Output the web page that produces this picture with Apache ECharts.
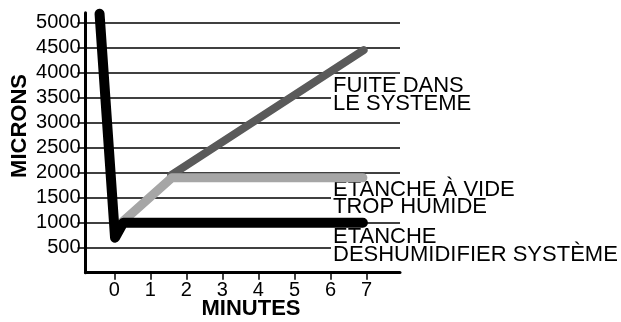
<!DOCTYPE html>
<html>
<head>
<meta charset="utf-8">
<script src="https://cdn.jsdelivr.net/npm/echarts@6/dist/echarts.min.js"></script>
<style>
    html, body { margin: 0; padding: 0; background: #fff; }
    #chart { width: 621px; height: 322px; }
</style>
</head>
<body>
<div id="chart"></div>
<script>
    // values
    const minuteTicks = [0, 1, 2, 3, 4, 5, 6, 7];
    const micronTicks = [500, 1000, 1500, 2000, 2500, 3000, 3500, 4000, 4500, 5000];

    // black: pump-down then stays sealed
    const sealedX = [-0.41, 0.02, 0.25, 6.9];
    const sealedY = [5180, 700, 1000, 1000];
    // light gray: rises and levels off (moisture)
    const wetX = [0.2, 1.6, 6.9];
    const wetY = [1000, 1900, 1900];
    // dark gray: keeps rising (leak)
    const leakX = [1.58, 6.92];
    const leakY = [1950, 4450];

    const notes = [
        'FUITE DANS\nLE SYSTEME',
        'ÉTANCHE À VIDE\nTROP HUMIDE',
        'ÉTANCHE\nDESHUMIDIFIER SYSTÈME'
    ];

    const font = '"Liberation Sans", Arial, sans-serif';
    const pairs = (xs, ys) => xs.map((x, i) => [x, ys[i]]);

    const myChart = echarts.init(document.getElementById('chart'));
    const noteTop = [75.5, 179, 226.4];

    const options = {
        animation: false,
        backgroundColor: '#fff',
        grid: { left: 85.5, right: 221, top: 12.7, bottom: 49.3 },
        xAxis: {
            type: 'value',
            min: -0.8,
            max: 7.93,
            axisLine: { onZero: false, lineStyle: { color: '#000', width: 3 } },
            axisTick: { customValues: minuteTicks, length: 7, lineStyle: { color: '#000', width: 1.5 } },
            axisLabel: { customValues: minuteTicks, margin: 8, color: '#000', fontSize: 20, fontFamily: font },
            splitLine: { show: false }
        },
        yAxis: {
            type: 'value',
            min: 0,
            max: 5200,
            interval: 500,
            axisLine: { show: true, onZero: false, lineStyle: { color: '#000', width: 3 } },
            axisTick: { customValues: micronTicks, length: 8, lineStyle: { color: '#000', width: 1.5 } },
            axisLabel: {
                customValues: micronTicks, margin: 5, color: '#000', fontSize: 20, fontFamily: font,
                formatter: v => String(v)
            },
            splitLine: { show: true, lineStyle: { color: '#000', width: 1.5 } }
        },
        graphic: [
            {
                type: 'text', x: 20, y: 126, rotation: Math.PI / 2, z: 1,
                style: { text: 'MICRONS', font: 'bold 22px ' + font, fill: '#000', align: 'center', verticalAlign: 'middle' }
            },
            {
                type: 'text', x: 251, y: 309, z: 1,
                style: { text: 'MINUTES', font: 'bold 22px ' + font, fill: '#000', align: 'center', verticalAlign: 'middle' }
            }
        ].concat(notes.map((t, i) => ({
            type: 'text', x: 331, y: noteTop[i], z: 1,
            style: {
                text: t, font: '22px ' + font, fill: '#000', lineHeight: 17.5,
                backgroundColor: '#fff', padding: [2, 4, 0, 2]
            }
        }))),
        series: [
            {
                name: 'leak', type: 'line', data: pairs(leakX, leakY),
                symbol: 'none', silent: true,
                lineStyle: { color: '#5a5a5a', width: 8, cap: 'round', join: 'round' }
            },
            {
                name: 'wet', type: 'line', data: pairs(wetX, wetY),
                symbol: 'none', silent: true,
                lineStyle: { color: '#a6a6a6', width: 9, cap: 'round', join: 'round' }
            },
            {
                name: 'sealed', type: 'line', data: pairs(sealedX, sealedY),
                symbol: 'none', silent: true,
                lineStyle: { color: '#000', width: 10, cap: 'round', join: 'round' }
            }
        ]
    };
    myChart.setOption(options);
</script>
</body>
</html>
